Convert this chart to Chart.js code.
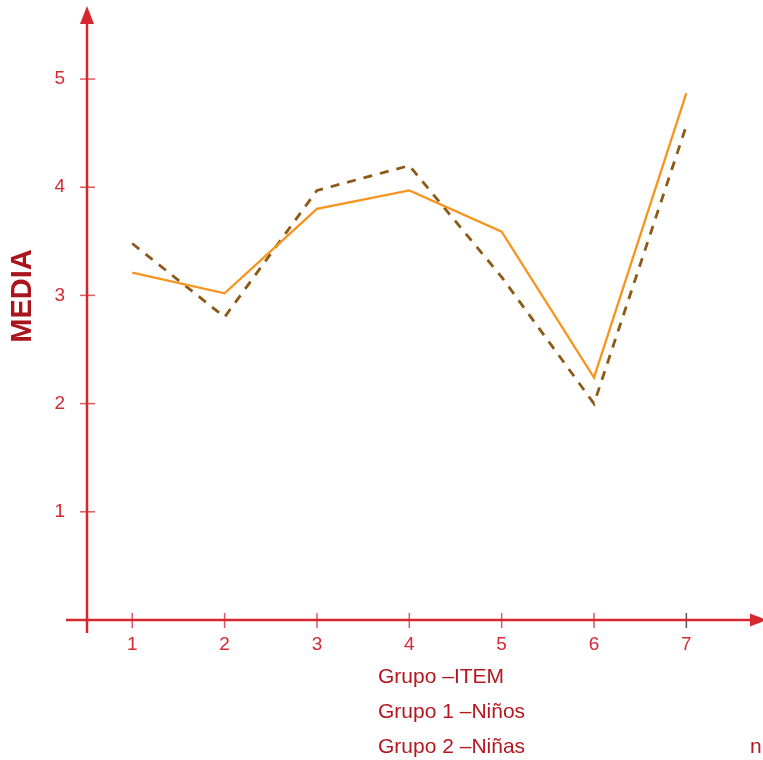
<!DOCTYPE html>
<html>
<head>
<meta charset="utf-8">
<script src="https://cdn.jsdelivr.net/npm/chart.js@4/dist/chart.umd.min.js"></script>
<style>
  body { margin: 0; background: #fff; }
  #wrap { width: 763px; height: 760px; position: relative; }
</style>
</head>
<body>
<div id="wrap"><canvas id="mediaChart"></canvas></div>
<script>
// items on the x axis
const items = [1, 2, 3, 4, 5, 6, 7];
// Grupo 1 - Niños (solid orange)
const ninos = [3.21, 3.02, 3.8, 3.97, 3.59, 2.24, 4.87];
// Grupo 2 - Niñas (dashed brown)
const ninas = [3.48, 2.8, 3.97, 4.2, 3.17, 2.0, 4.57];
// tick labels
const xTicks = [1, 2, 3, 4, 5, 6, 7];
const yTicks = [1, 2, 3, 4, 5];
const legendLines = ["Grupo –ITEM", "Grupo 1 –Niños", "Grupo 2 –Niñas"];

const axisRed = "#d7262e";
const tickRed = "#d42a33";
const textRed = "#b5161f";
const font = "'Liberation Sans', Arial, sans-serif";

// draws the arrowed axes, tick marks and the free text
const axesPlugin = {
  id: "axesPlugin",
  afterDraw(chart) {
    const { ctx, scales } = chart;
    const x = scales.x, y = scales.y;
    const x0 = x.getPixelForValue(x.min);
    const y0 = y.getPixelForValue(0);
    const top = chart.chartArea.top;
    const right = chart.chartArea.right;
    ctx.save();

    // tick marks crossing the axes
    ctx.lineWidth = 1.5;
    yTicks.forEach((v) => {
      const py = y.getPixelForValue(v);
      ctx.strokeStyle = "#dc5a60";
      ctx.beginPath();
      ctx.moveTo(x0 - 7, py);
      ctx.lineTo(x0 + 8, py);
      ctx.stroke();
    });
    xTicks.forEach((v) => {
      const px = x.getPixelForValue(v);
      ctx.strokeStyle = v === 7 ? "#555" : "#dc5a60";
      ctx.beginPath();
      ctx.moveTo(px, y0 - 7);
      ctx.lineTo(px, y0 + 8);
      ctx.stroke();
    });

    // axis lines
    ctx.strokeStyle = axisRed;
    ctx.lineWidth = 2.5;
    ctx.beginPath();
    ctx.moveTo(x0, y0 + 13);
    ctx.lineTo(x0, top + 16);
    ctx.moveTo(x0 - 21, y0);
    ctx.lineTo(right - 10, y0);
    ctx.stroke();

    // arrow heads
    ctx.fillStyle = axisRed;
    ctx.beginPath();
    ctx.moveTo(x0, top);
    ctx.lineTo(x0 - 7, top + 18);
    ctx.lineTo(x0 + 7, top + 18);
    ctx.closePath();
    ctx.fill();
    ctx.beginPath();
    ctx.moveTo(right + 4, y0);
    ctx.lineTo(right - 13, y0 - 6.5);
    ctx.lineTo(right - 13, y0 + 6.5);
    ctx.closePath();
    ctx.fill();

    // y axis title
    ctx.save();
    ctx.translate(31, 296);
    ctx.rotate(-Math.PI / 2);
    ctx.font = "bold 29px " + font;
    ctx.fillStyle = "#a9141d";
    ctx.textAlign = "center";
    ctx.textBaseline = "alphabetic";
    ctx.fillText("MEDIA", 0, 0);
    ctx.restore();

    // group text under the axis
    ctx.font = "21px " + font;
    ctx.fillStyle = textRed;
    ctx.textAlign = "left";
    ctx.textBaseline = "alphabetic";
    legendLines.forEach((t, i) => {
      ctx.fillText(t, 378, 683 + i * 35);
    });
    ctx.fillText("n:", 750, 753);
    ctx.restore();
  },
};

const chartArea = document.querySelector("#mediaChart").getContext("2d");

const data = {
  datasets: [
    {
      label: "Grupo 1 –Niños",
      data: items.map((v, i) => ({ x: v, y: ninos[i] })),
      borderColor: "#f7941e",
      borderWidth: 2.3,
      pointRadius: 0,
      tension: 0,
    },
    {
      label: "Grupo 2 –Niñas",
      data: items.map((v, i) => ({ x: v, y: ninas[i] })),
      borderColor: "#8c5a16",
      borderWidth: 2.8,
      borderDash: [9, 8],
      pointRadius: 0,
      tension: 0,
    },
  ],
};

const config = {
  type: "line",
  data: data,
  options: {
    responsive: true,
    maintainAspectRatio: false,
    animation: false,
    layout: { padding: { top: 6, left: 0, right: 0, bottom: 0 } },
    plugins: {
      legend: { display: false },
      tooltip: { enabled: false },
    },
    scales: {
      x: {
        type: "linear",
        min: 0.51,
        max: 7.83,
        grid: { display: false, drawTicks: false },
        border: { display: false },
        afterBuildTicks: (scale) => {
          scale.ticks = xTicks.map((v) => ({ value: v }));
        },
        afterFit: (scale) => {
          scale.height = 140;
          scale.paddingLeft = 0;
          scale.paddingRight = 0;
        },
        ticks: {
          color: tickRed,
          font: { family: font, size: 19 },
          padding: 13,
          maxRotation: 0,
        },
      },
      y: {
        min: 0,
        max: 5.675,
        grid: { display: false, drawTicks: false },
        border: { display: false },
        afterBuildTicks: (scale) => {
          scale.ticks = yTicks.map((v) => ({ value: v }));
        },
        afterFit: (scale) => {
          scale.width = 87;
          scale.paddingTop = 0;
          scale.paddingBottom = 0;
        },
        ticks: {
          color: tickRed,
          font: { family: font, size: 19 },
          padding: 22,
        },
      },
    },
  },
  plugins: [axesPlugin],
};

let mediaChart = new Chart(chartArea, config);
</script>
</body>
</html>
